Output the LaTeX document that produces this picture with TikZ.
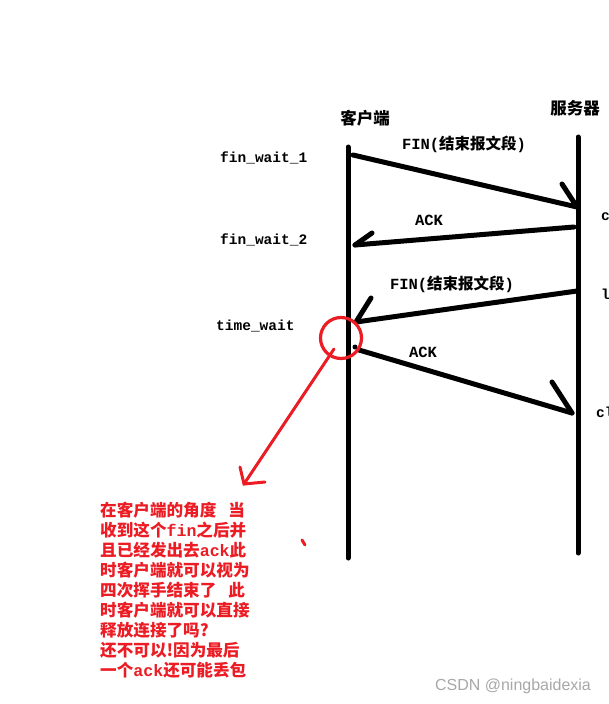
\documentclass[tikz,border=0pt]{standalone}
\usepackage{fontspec}
\newfontfamily\cjk{Noto Sans CJK SC}
\newfontfamily\mono{Liberation Mono}
\newfontfamily\wmark{Liberation Sans}
\definecolor{redc}{HTML}{EC1C24}
\definecolor{wmgray}{HTML}{A8A8A8}
\begin{document}
\begin{tikzpicture}[x=1pt,y=-1pt,
  lifeline/.style={line width=5pt, line cap=round},
  msg/.style={line width=5pt, line cap=round},
  barb/.style={line width=5pt, line cap=round},
  statelbl/.style={anchor=west, inner sep=0, font=\mono\bfseries\fontsize{14.5}{16}\selectfont},
  msglbl/.style={inner sep=0, font=\mono\bfseries\fontsize{15.5}{17}\selectfont},
  hostlbl/.style={inner sep=0, font=\cjk\bfseries\fontsize{16.5}{18}\selectfont},
  redline/.style={draw=redc, line width=3pt, line cap=round},
  note/.style={anchor=north west, align=left, inner sep=0, text=redc,
    font=\cjk\bfseries\fontsize{16.6}{20}\selectfont}]
\useasboundingbox (0,0) rectangle (609,704);
\clip (0,0) rectangle (609,704);
\fill[white] (0,0) rectangle (609,704);

% lifelines
\coordinate (cTop) at (348,147);
\coordinate (cBot) at (348,558);
\coordinate (sTop) at (578,137);
\coordinate (sBot) at (578,553);
\draw[lifeline] (cTop) -- (cBot);
\draw[lifeline] (sTop) -- (sBot);

% host labels
\node[hostlbl] (client) at (365,118) {客户端};
\node[hostlbl] (server) at (575,108) {服务器};

% state labels (client side)
\node[statelbl] (fw1) at (220,158) {fin\_wait\_1};
\node[statelbl] (fw2) at (220,240) {fin\_wait\_2};
\node[statelbl] (tw) at (216,326) {time\_wait};

% state labels (server side, cut by the edge as in the reference)
\node[statelbl] (cw) at (601,216) {close\_wait};
\node[statelbl] (la) at (601,295) {last\_ack};
\node[statelbl] (cl) at (596,412) {closed};

% message 1: FIN
\coordinate (m1a) at (353,155);
\coordinate (m1b) at (577,207);
\coordinate (m1h) at (562,184);
\draw[msg] (m1a) -- (m1b);
\draw[barb] (m1h) -- (m1b);
\node[msglbl] (l1) at (464,144) {FIN({\cjk\bfseries 结束报文段})};

% message 2: ACK
\coordinate (m2a) at (574,227);
\coordinate (m2b) at (355,245);
\coordinate (m2h) at (372,233);
\draw[msg] (m2a) -- (m2b);
\draw[barb] (m2h) -- (m2b);
\node[msglbl] (l2) at (429,220) {ACK};

% message 3: FIN
\coordinate (m3a) at (577,291);
\coordinate (m3b) at (356,322);
\coordinate (m3h) at (371,298);
\draw[msg] (m3a) -- (m3b);
\draw[barb] (m3h) -- (m3b);
\node[msglbl] (l3) at (452,284) {FIN({\cjk\bfseries 结束报文段})};

% message 4: ACK
\coordinate (m4d) at (355,347);
\coordinate (m4a) at (359,350);
\coordinate (m4b) at (572,413);
\coordinate (m4h) at (552,382);
\fill (m4d) circle (2.5pt);
\draw[msg] (m4a) -- (m4b);
\draw[barb] (m4h) -- (m4b);
\node[msglbl] (l4) at (423,352) {ACK};

% red annotation
\node[circle, draw=redc, line width=3.2pt, minimum size=41pt, inner sep=0] (ring) at (341,338) {};
\coordinate (rs) at (334,349);
\coordinate (re) at (244,484);
\coordinate (rh1) at (240,467);
\coordinate (rh2) at (265,482);
\draw[redline] (rs) -- (re);
\draw[redline] (rh1) -- (re) -- (rh2);
\coordinate (dot1) at (302,540);
\coordinate (dot2) at (305,545);
\draw[redline] (dot1) -- (dot2);

\node[note] (notetext) at (100,502) {在客户端的角度\hspace{12pt}当\\
收到这个{\mono\bfseries fin}之后并\\
且已经发出去{\mono\bfseries ack}此\\
时客户端就可以视为\\
四次挥手结束了\hspace{12pt}此\\
时客户端就可以直接\\
释放连接了吗?\\
还不可以!因为最后\\
一个{\mono\bfseries ack}还可能丢包};

% watermark
\node[inner sep=0, text=wmgray, font=\wmark\fontsize{16}{18}\selectfont] (wm) at (513,686) {CSDN @ningbaidexia};
\end{tikzpicture}
\end{document}
